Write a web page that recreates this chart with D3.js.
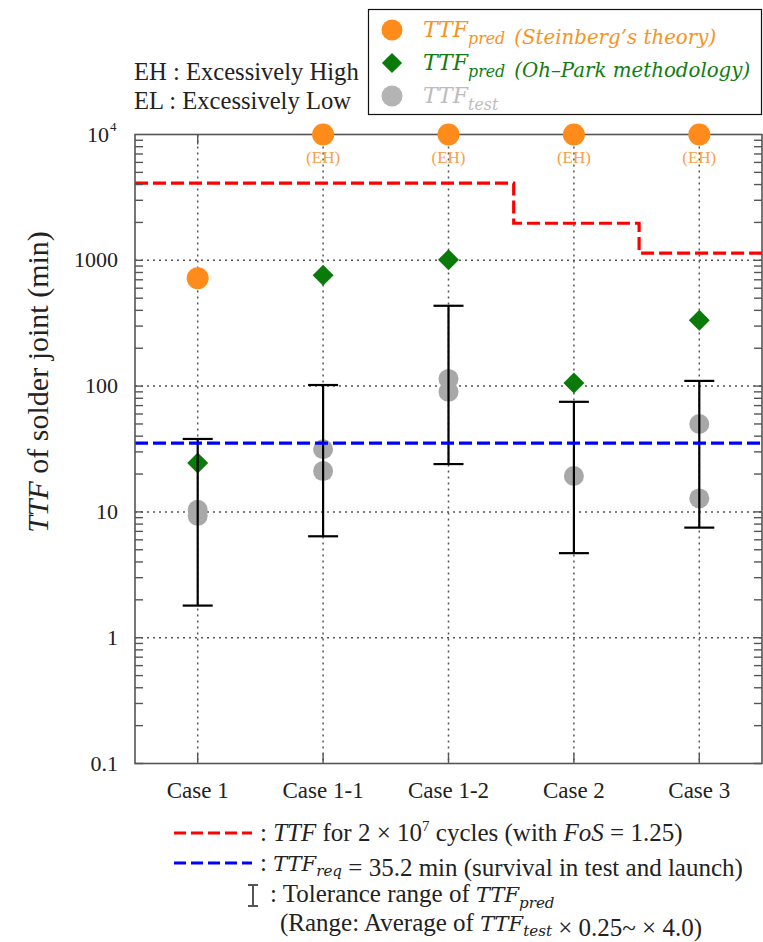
<!DOCTYPE html>
<html>
<head>
<meta charset="utf-8">
<script src="https://cdn.jsdelivr.net/npm/d3@7"></script>
<style>
    body { margin: 0; background: #fff; }
    svg text, svg tspan { font-family: "Liberation Serif", "Times New Roman", serif; }
    svg .math, svg .math tspan { font-family: "DejaVu Serif", serif; font-style: italic; }
</style>
</head>
<body>
<div id="vis"></div>
<script>
// chart values
var cases = ['Case 1', 'Case 1-1', 'Case 1-2', 'Case 2', 'Case 3'];
var steinberg = [720, 10000, 10000, 10000, 10000];
var steinbergNote = ['', '(EH)', '(EH)', '(EH)', '(EH)'];
var ohPark = [24.5, 760, 1010, 106, 334];
var testValues = [[10.4, 9.3], [31.5, 21.1], [114, 90], [19.3], [50, 12.8]];
var tolLow = [1.8, 6.4, 24, 4.7, 7.5];
var tolHigh = [38, 102, 435, 75, 110];
var cycleLevels = [4100, 1970, 1140];
var cycleBreaks = [0.5, 3.52, 4.52, 5.5];
var ttfReq = 35.2;
var yTicks = [0.1, 1, 10, 100, 1000, 10000];
var yTickLabels = ['0.1', '1', '10', '100', '1000', '10'];

var W = 763, H = 942;
var svg = d3.select('#vis').append('svg')
    .attr('width', W)
    .attr('height', H);

var plotLeft = 135, plotRight = 762, plotTop = 134.5, plotBottom = 763.5;
var xScale = d3.scaleLinear().domain([0.5, 5.5]).range([plotLeft, plotRight]);
var yScale = d3.scaleLog().domain([0.1, 10000]).range([plotBottom, plotTop]);

var orange = '#ff8c1a', green = '#0a7a0a', gray = '#a8a8a8';

// grid
var grid = svg.append('g');
grid.selectAll('.hg').data(yTicks.slice(1, -1)).enter().append('line')
    .attr('x1', plotLeft).attr('x2', plotRight)
    .attr('y1', function(d) { return yScale(d); })
    .attr('y2', function(d) { return yScale(d); })
    .attr('stroke', '#555').attr('stroke-width', 1.5)
    .attr('stroke-dasharray', '2,4');
grid.selectAll('.vg').data(cases).enter().append('line')
    .attr('x1', function(d, i) { return xScale(i + 1); })
    .attr('x2', function(d, i) { return xScale(i + 1); })
    .attr('y1', plotTop).attr('y2', plotBottom)
    .attr('stroke', '#555').attr('stroke-width', 1.5)
    .attr('stroke-dasharray', '2,4');

// test points
var testPts = [];
testValues.forEach(function(vals, i) {
    vals.forEach(function(v) { testPts.push({i: i, v: v}); });
});
svg.append('g').selectAll('circle').data(testPts).enter().append('circle')
    .attr('cx', function(d) { return xScale(d.i + 1); })
    .attr('cy', function(d) { return yScale(d.v); })
    .attr('r', 10)
    .attr('fill', gray);

// Oh-Park diamonds
svg.append('g').selectAll('path').data(ohPark).enter().append('path')
    .attr('d', d3.symbol().type(d3.symbolDiamond2).size(280))
    .attr('transform', function(d, i) { return 'translate(' + xScale(i + 1) + ',' + yScale(d) + ')'; })
    .attr('fill', green);

// tolerance bars
var bars = svg.append('g').attr('stroke', '#000').attr('stroke-width', 2.2);
cases.forEach(function(c, i) {
    var cx = xScale(i + 1);
    bars.append('line').attr('x1', cx).attr('x2', cx)
        .attr('y1', yScale(tolLow[i])).attr('y2', yScale(tolHigh[i]));
    [tolLow[i], tolHigh[i]].forEach(function(v) {
        bars.append('line').attr('x1', cx - 15).attr('x2', cx + 15)
            .attr('y1', yScale(v)).attr('y2', yScale(v));
    });
});

// cycle (red) step line
var stepPts = [];
cycleLevels.forEach(function(v, i) {
    stepPts.push([cycleBreaks[i], v]);
    stepPts.push([cycleBreaks[i + 1], v]);
});
svg.append('path')
    .attr('d', d3.line()
        .x(function(d) { return xScale(d[0]); })
        .y(function(d) { return yScale(d[1]); })(stepPts))
    .attr('fill', 'none')
    .attr('stroke', '#ff0000').attr('stroke-width', 3.2)
    .attr('stroke-dasharray', '13,5');

// required TTF (blue)
svg.append('line')
    .attr('x1', plotLeft).attr('x2', plotRight)
    .attr('y1', yScale(ttfReq)).attr('y2', yScale(ttfReq))
    .attr('stroke', '#0000ff').attr('stroke-width', 3.2)
    .attr('stroke-dasharray', '13,5');

// frame
svg.append('rect')
    .attr('x', plotLeft).attr('y', plotTop)
    .attr('width', plotRight - plotLeft).attr('height', plotBottom - plotTop)
    .attr('fill', 'none').attr('stroke', '#555').attr('stroke-width', 1.6);

// y ticks, inside on both sides
var minor = [];
for (var e = -1; e < 4; e++) {
    for (var m = 1; m < 10; m++) minor.push(m * Math.pow(10, e));
}
var ticks = svg.append('g').attr('stroke', '#555').attr('stroke-width', 1.4);
minor.forEach(function(v) {
    var yy = yScale(v);
    ticks.append('line').attr('x1', plotLeft).attr('x2', plotLeft + 8).attr('y1', yy).attr('y2', yy);
    ticks.append('line').attr('x1', plotRight - 8).attr('x2', plotRight).attr('y1', yy).attr('y2', yy);
});
cases.forEach(function(c, i) {
    var cx = xScale(i + 1);
    ticks.append('line').attr('x1', cx).attr('x2', cx).attr('y1', plotBottom).attr('y2', plotBottom - 10);
    ticks.append('line').attr('x1', cx).attr('x2', cx).attr('y1', plotTop).attr('y2', plotTop + 10);
});

// Steinberg circles + EH notes
svg.append('g').selectAll('circle').data(steinberg).enter().append('circle')
    .attr('cx', function(d, i) { return xScale(i + 1); })
    .attr('cy', function(d) { return yScale(d); })
    .attr('r', 11)
    .attr('fill', orange);
svg.append('g').selectAll('text').data(steinbergNote).enter().append('text')
    .attr('x', function(d, i) { return xScale(i + 1); })
    .attr('y', yScale(10000) + 28)
    .attr('text-anchor', 'middle')
    .attr('font-size', 17)
    .attr('fill', '#f7a04a')
    .text(function(d) { return d; });

// y tick labels
var yl = svg.append('g').attr('font-size', 22).attr('fill', '#222');
yTicks.forEach(function(v, i) {
    yl.append('text')
        .attr('x', 118 - (i === 5 ? 9 : 0))
        .attr('y', yScale(v) + 7)
        .attr('text-anchor', 'end')
        .text(yTickLabels[i]);
    if (i === 5) {
        yl.append('text').attr('x', 110).attr('y', yScale(v) - 4)
            .attr('font-size', 13).text('4');
    }
});

// x labels
svg.append('g').selectAll('text').data(cases).enter().append('text')
    .attr('x', function(d, i) { return xScale(i + 1); })
    .attr('y', 798)
    .attr('text-anchor', 'middle')
    .attr('font-size', 23)
    .attr('fill', '#222')
    .text(function(d) { return d; });

// y title
var yt = svg.append('text')
    .attr('transform', 'translate(48,382)rotate(-90)')
    .attr('text-anchor', 'middle')
    .attr('font-size', 30)
    .attr('fill', '#222');
yt.append('tspan').attr('font-style', 'italic').text('TTF');
yt.append('tspan').text(' of solder joint (min)');

// EH / EL note
svg.append('text').attr('x', 134).attr('y', 80).attr('font-size', 24.6).attr('fill', '#222')
    .text('EH : Excessively High');
svg.append('text').attr('x', 134).attr('y', 109).attr('font-size', 24.6).attr('fill', '#222')
    .text('EL : Excessively Low');

// TTF with a subscript, in the math font
var ttf = function(text, sub, size, drop) {
    drop = drop || size * 0.3;
    text.append('tspan').attr('class', 'math').attr('font-size', size).text('TTF');
    text.append('tspan').attr('class', 'math').attr('font-size', size * 0.72)
        .attr('dy', drop).text(sub);
    text.append('tspan').attr('dy', -drop).text('');
};

// top legend
svg.append('rect')
    .attr('x', 368.5).attr('y', 9.5).attr('width', 393).attr('height', 105)
    .attr('fill', '#fff').attr('stroke', '#111').attr('stroke-width', 1.2);
var legItems = [
    {color: orange, text: '#f7931e', sub: 'pred', label: '(Steinberg\u2019s theory)', shape: 'circle'},
    {color: green, text: '#117c11', sub: 'pred', label: '(Oh\u2013Park methodology)', shape: 'diamond'},
    {color: '#b4b4b4', text: '#bcbcbc', sub: 'test', label: '', shape: 'circle'}
];
legItems.forEach(function(d, i) {
    var cy = 30 + i * 33;
    if (d.shape === 'circle') {
        svg.append('circle').attr('cx', 392).attr('cy', cy).attr('r', 10.5).attr('fill', d.color);
    } else {
        svg.append('path').attr('d', d3.symbol().type(d3.symbolDiamond2).size(260))
            .attr('transform', 'translate(392,' + cy + ')').attr('fill', d.color);
    }
    var t = svg.append('text').attr('x', 423).attr('y', cy + 7).attr('fill', d.text);
    ttf(t, d.sub, 22);
    t.append('tspan').attr('class', 'math').attr('dx', 9).attr('font-size', 19.8).text(d.label);
});

// bottom legend
var fs = 25;
svg.append('line').attr('x1', 174).attr('x2', 252).attr('y1', 833).attr('y2', 833)
    .attr('stroke', '#ff0000').attr('stroke-width', 3).attr('stroke-dasharray', '12,5');
svg.append('line').attr('x1', 174).attr('x2', 252).attr('y1', 863).attr('y2', 863)
    .attr('stroke', '#0000ff').attr('stroke-width', 3).attr('stroke-dasharray', '12,5');

var t1 = svg.append('text').attr('x', 260).attr('y', 841).attr('font-size', fs).attr('fill', '#222');
t1.append('tspan').text(': ');
t1.append('tspan').attr('font-style', 'italic').text('TTF');
t1.append('tspan').text(' for 2 \u00d7 10');
t1.append('tspan').attr('font-size', 15).attr('dy', -10).text('7');
t1.append('tspan').attr('dy', 10).text(' cycles (with ');
t1.append('tspan').attr('font-style', 'italic').text('FoS');
t1.append('tspan').text(' = 1.25)');

var t2 = svg.append('text').attr('x', 260).attr('y', 871).attr('font-size', fs).attr('fill', '#222');
t2.append('tspan').text(': ');
ttf(t2, 'req', 21, 5);
t2.append('tspan').text(' = 35.2 min (survival in test and launch)');

var ib = svg.append('g').attr('stroke', '#555').attr('stroke-width', 2);
ib.append('line').attr('x1', 253).attr('x2', 253).attr('y1', 885).attr('y2', 906);
ib.append('line').attr('x1', 248).attr('x2', 258).attr('y1', 885).attr('y2', 885);
ib.append('line').attr('x1', 248).attr('x2', 258).attr('y1', 906).attr('y2', 906);

var t3 = svg.append('text').attr('x', 270).attr('y', 902).attr('font-size', fs).attr('fill', '#222');
t3.append('tspan').text(': Tolerance range of ');
ttf(t3, 'pred', 21);

var t4 = svg.append('text').attr('x', 280).attr('y', 931).attr('font-size', fs).attr('fill', '#222');
t4.append('tspan').text('(Range: Average of ');
ttf(t4, 'test', 21, 5);
t4.append('tspan').text(' \u00d7 0.25~ \u00d7 4.0)');
</script>
</body>
</html>
